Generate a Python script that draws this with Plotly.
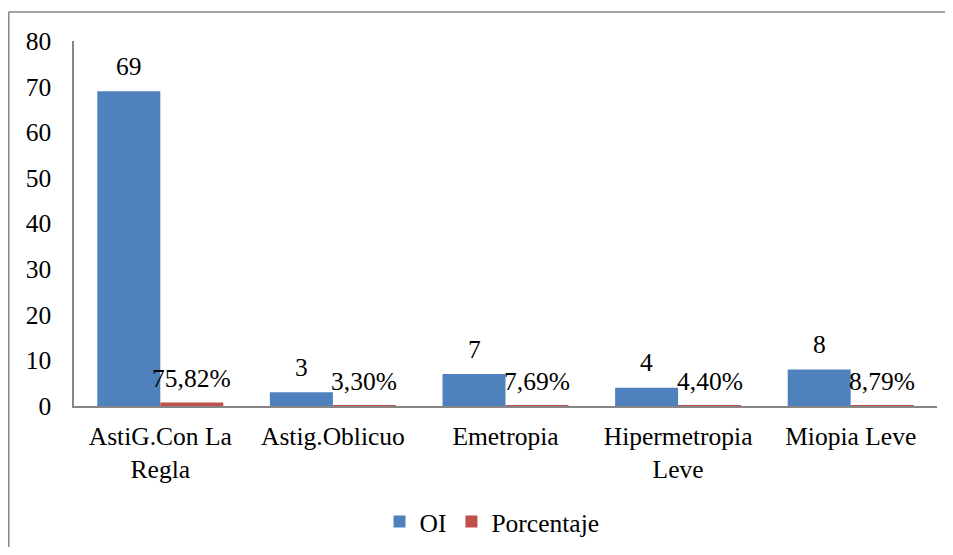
import plotly.graph_objects as go

categories = ["AstiG.Con La<br>Regla", "Astig.Oblicuo", "Emetropia", "Hipermetropia<br>Leve", "Miopia Leve"]
oi_values = [69, 3, 7, 4, 8]
pct_values = [0.7582, 0.0330, 0.0769, 0.0440, 0.0879]
y_ticks = [0, 10, 20, 30, 40, 50, 60, 70, 80]

FONT = "Liberation Serif"
FS = 25.5
BLUE = "#4F81BD"
RED = "#C0504D"
GREY = "#868686"

fig = go.Figure()
fig.add_trace(go.Bar(name="OI", x=categories, y=oi_values, marker=dict(color=BLUE, line=dict(width=0))))
fig.add_trace(go.Bar(name="Porcentaje", x=categories, y=pct_values, marker=dict(color=RED, line=dict(width=0))))

ann = []
for c, v in zip(categories, oi_values):
    ann.append(dict(x=c, y=v, xref="x", yref="y", text=str(v), showarrow=False,
                    xshift=-31.5, yanchor="middle", yshift=25, font=dict(family=FONT, size=FS, color="black")))
for c, v in zip(categories, pct_values):
    txt = f"{v*100:.2f}%".replace(".", ",")
    ann.append(dict(x=c, y=v, xref="x", yref="y", text=txt, showarrow=False,
                    xshift=31.5, yanchor="middle", yshift=24, font=dict(family=FONT, size=FS, color="black")))

# page body has an 8px default margin: figure coordinates = screen - 8
OFF = 8
W, H = 953 - 2 * OFF, 555 - 2 * OFF
L, T = 74 - OFF, 41 - OFF
R = W - (937 - OFF)
B = H - (406 - OFF)
pw, ph = W - L - R, H - T - B
def px(x):
    return (x - OFF - L) / pw
def py(y):
    return (H - B - (y - OFF)) / ph

shapes = [
    dict(type="line", xref="paper", yref="paper", x0=px(8.8), x1=px(W + 30), y0=py(12), y1=py(12),
         line=dict(color=GREY, width=1.5)),
    dict(type="line", xref="paper", yref="paper", x0=px(8.8), x1=px(8.8), y0=py(12), y1=py(H + 30),
         line=dict(color=GREY, width=1.5)),
]

fig.update_layout(
    width=W, height=H,
    margin=dict(l=L, r=R, t=T, b=B, pad=0, autoexpand=False),
    paper_bgcolor="white", plot_bgcolor="white",
    barmode="group", bargap=0.27, bargroupgap=0,
    font=dict(family=FONT, size=FS, color="black"),
    showlegend=True,
    legend=dict(orientation="h", x=px(492), xanchor="center", y=py(522), yanchor="middle",
                font=dict(family=FONT, size=FS, color="black"), itemwidth=30, traceorder="normal"),
    annotations=ann,
    shapes=shapes,
)
fig.update_xaxes(showline=True, linecolor=GREY, linewidth=2, showgrid=False, ticks="",
                 tickfont=dict(family=FONT, size=FS, color="black"), ticklabelstandoff=6,
                 zeroline=False, automargin=False)
fig.update_yaxes(range=[0, 80], tickvals=y_ticks, showline=True, linecolor=GREY, linewidth=1.5,
                 showgrid=False, ticks="", zeroline=False, automargin=False,
                 tickfont=dict(family=FONT, size=FS, color="black"), ticklabelstandoff=16)

fig.write_html("out.html")
